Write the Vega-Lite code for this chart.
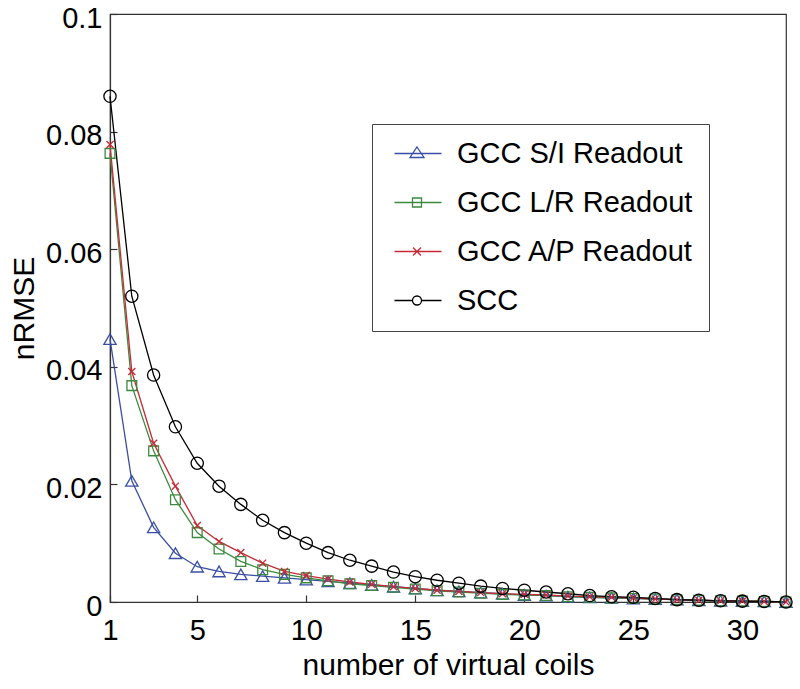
{
  "$schema": "https://vega.github.io/schema/vega-lite/v6.json",
  "width": 676,
  "height": 588,
  "autosize": {"type": "none"},
  "padding": {"left": 110, "top": 14, "right": 14, "bottom": 87},
  "background": "white",
  "config": {
    "font": "Liberation Sans",
    "view": {"stroke": "#333333", "strokeWidth": 1.2},
    "axis": {
      "grid": false,
      "domainColor": "#333333",
      "tickColor": "#333333",
      "domainWidth": 1.2,
      "tickWidth": 1.2,
      "tickSize": -7,
      "labelFlush": false,
      "labelFontSize": 29,
      "labelColor": "black",
      "titleFontSize": 30,
      "titleFontWeight": "normal",
      "titleColor": "black"
    }
  },
  "data": {
    "values": [
      {"n":1,"s":"GCC S/I Readout","v":0.0447},{"n":2,"s":"GCC S/I Readout","v":0.0206},{"n":3,"s":"GCC S/I Readout","v":0.0127},{"n":4,"s":"GCC S/I Readout","v":0.0083},{"n":5,"s":"GCC S/I Readout","v":0.0060},{"n":6,"s":"GCC S/I Readout","v":0.0052},{"n":7,"s":"GCC S/I Readout","v":0.0047},{"n":8,"s":"GCC S/I Readout","v":0.0044},{"n":9,"s":"GCC S/I Readout","v":0.0041},{"n":10,"s":"GCC S/I Readout","v":0.0038},{"n":11,"s":"GCC S/I Readout","v":0.0035},{"n":12,"s":"GCC S/I Readout","v":0.0032},{"n":13,"s":"GCC S/I Readout","v":0.0029},{"n":14,"s":"GCC S/I Readout","v":0.0026},{"n":15,"s":"GCC S/I Readout","v":0.0023},{"n":16,"s":"GCC S/I Readout","v":0.0020},{"n":17,"s":"GCC S/I Readout","v":0.0018},{"n":18,"s":"GCC S/I Readout","v":0.0016},{"n":19,"s":"GCC S/I Readout","v":0.0014},{"n":20,"s":"GCC S/I Readout","v":0.0012},{"n":21,"s":"GCC S/I Readout","v":0.0011},{"n":22,"s":"GCC S/I Readout","v":0.0009},{"n":23,"s":"GCC S/I Readout","v":0.0008},{"n":24,"s":"GCC S/I Readout","v":0.0007},{"n":25,"s":"GCC S/I Readout","v":0.0006},{"n":26,"s":"GCC S/I Readout","v":0.0005},{"n":27,"s":"GCC S/I Readout","v":0.0004},{"n":28,"s":"GCC S/I Readout","v":0.0003},{"n":29,"s":"GCC S/I Readout","v":0.0002},{"n":30,"s":"GCC S/I Readout","v":0.00015},{"n":31,"s":"GCC S/I Readout","v":0.0001},{"n":32,"s":"GCC S/I Readout","v":0.0},
      {"n":1,"s":"GCC L/R Readout","v":0.0763},{"n":2,"s":"GCC L/R Readout","v":0.0368},{"n":3,"s":"GCC L/R Readout","v":0.0257},{"n":4,"s":"GCC L/R Readout","v":0.0174},{"n":5,"s":"GCC L/R Readout","v":0.0118},{"n":6,"s":"GCC L/R Readout","v":0.0090},{"n":7,"s":"GCC L/R Readout","v":0.0069},{"n":8,"s":"GCC L/R Readout","v":0.0055},{"n":9,"s":"GCC L/R Readout","v":0.0047},{"n":10,"s":"GCC L/R Readout","v":0.0041},{"n":11,"s":"GCC L/R Readout","v":0.0036},{"n":12,"s":"GCC L/R Readout","v":0.0031},{"n":13,"s":"GCC L/R Readout","v":0.0028},{"n":14,"s":"GCC L/R Readout","v":0.0025},{"n":15,"s":"GCC L/R Readout","v":0.0022},{"n":16,"s":"GCC L/R Readout","v":0.0019},{"n":17,"s":"GCC L/R Readout","v":0.0017},{"n":18,"s":"GCC L/R Readout","v":0.0015},{"n":19,"s":"GCC L/R Readout","v":0.0013},{"n":20,"s":"GCC L/R Readout","v":0.0012},{"n":21,"s":"GCC L/R Readout","v":0.0011},{"n":22,"s":"GCC L/R Readout","v":0.0009},{"n":23,"s":"GCC L/R Readout","v":0.0008},{"n":24,"s":"GCC L/R Readout","v":0.0007},{"n":25,"s":"GCC L/R Readout","v":0.0006},{"n":26,"s":"GCC L/R Readout","v":0.0005},{"n":27,"s":"GCC L/R Readout","v":0.0004},{"n":28,"s":"GCC L/R Readout","v":0.0003},{"n":29,"s":"GCC L/R Readout","v":0.0002},{"n":30,"s":"GCC L/R Readout","v":0.00015},{"n":31,"s":"GCC L/R Readout","v":0.0001},{"n":32,"s":"GCC L/R Readout","v":0.0},
      {"n":1,"s":"GCC A/P Readout","v":0.0778},{"n":2,"s":"GCC A/P Readout","v":0.0392},{"n":3,"s":"GCC A/P Readout","v":0.0270},{"n":4,"s":"GCC A/P Readout","v":0.0197},{"n":5,"s":"GCC A/P Readout","v":0.0130},{"n":6,"s":"GCC A/P Readout","v":0.0103},{"n":7,"s":"GCC A/P Readout","v":0.0084},{"n":8,"s":"GCC A/P Readout","v":0.0066},{"n":9,"s":"GCC A/P Readout","v":0.0052},{"n":10,"s":"GCC A/P Readout","v":0.0045},{"n":11,"s":"GCC A/P Readout","v":0.0039},{"n":12,"s":"GCC A/P Readout","v":0.0034},{"n":13,"s":"GCC A/P Readout","v":0.0030},{"n":14,"s":"GCC A/P Readout","v":0.0026},{"n":15,"s":"GCC A/P Readout","v":0.0023},{"n":16,"s":"GCC A/P Readout","v":0.0020},{"n":17,"s":"GCC A/P Readout","v":0.0018},{"n":18,"s":"GCC A/P Readout","v":0.0016},{"n":19,"s":"GCC A/P Readout","v":0.0014},{"n":20,"s":"GCC A/P Readout","v":0.0013},{"n":21,"s":"GCC A/P Readout","v":0.0012},{"n":22,"s":"GCC A/P Readout","v":0.0010},{"n":23,"s":"GCC A/P Readout","v":0.0009},{"n":24,"s":"GCC A/P Readout","v":0.0008},{"n":25,"s":"GCC A/P Readout","v":0.0007},{"n":26,"s":"GCC A/P Readout","v":0.0005},{"n":27,"s":"GCC A/P Readout","v":0.0004},{"n":28,"s":"GCC A/P Readout","v":0.0003},{"n":29,"s":"GCC A/P Readout","v":0.0002},{"n":30,"s":"GCC A/P Readout","v":0.00015},{"n":31,"s":"GCC A/P Readout","v":0.0001},{"n":32,"s":"GCC A/P Readout","v":0.0},
      {"n":1,"s":"SCC","v":0.0860},{"n":2,"s":"SCC","v":0.0520},{"n":3,"s":"SCC","v":0.0386},{"n":4,"s":"SCC","v":0.0298},{"n":5,"s":"SCC","v":0.0236},{"n":6,"s":"SCC","v":0.0197},{"n":7,"s":"SCC","v":0.0166},{"n":8,"s":"SCC","v":0.0139},{"n":9,"s":"SCC","v":0.0118},{"n":10,"s":"SCC","v":0.0100},{"n":11,"s":"SCC","v":0.0084},{"n":12,"s":"SCC","v":0.0071},{"n":13,"s":"SCC","v":0.0061},{"n":14,"s":"SCC","v":0.0051},{"n":15,"s":"SCC","v":0.0043},{"n":16,"s":"SCC","v":0.0037},{"n":17,"s":"SCC","v":0.0032},{"n":18,"s":"SCC","v":0.0027},{"n":19,"s":"SCC","v":0.0023},{"n":20,"s":"SCC","v":0.0020},{"n":21,"s":"SCC","v":0.0017},{"n":22,"s":"SCC","v":0.0014},{"n":23,"s":"SCC","v":0.0011},{"n":24,"s":"SCC","v":0.0009},{"n":25,"s":"SCC","v":0.0008},{"n":26,"s":"SCC","v":0.0006},{"n":27,"s":"SCC","v":0.0004},{"n":28,"s":"SCC","v":0.0003},{"n":29,"s":"SCC","v":0.0002},{"n":30,"s":"SCC","v":0.00015},{"n":31,"s":"SCC","v":0.0001},{"n":32,"s":"SCC","v":0.0}
    ]
  },
  "encoding": {
    "x": {"field": "n", "type": "quantitative", "scale": {"domain": [1, 32], "nice": false, "zero": false},
          "axis": {"title": "number of virtual coils", "values": [1, 5, 10, 15, 20, 25, 30], "labelPadding": 21, "titlePadding": 5}},
    "y": {"field": "v", "type": "quantitative", "scale": {"domain": [0, 0.1], "nice": false},
          "axis": {"title": "nRMSE", "values": [0, 0.02, 0.04, 0.06, 0.08, 0.1], "format": "~g", "labelPadding": 15, "labelOffset": 4, "titlePadding": 6}},
    "color": {
      "field": "s", "type": "nominal",
      "scale": {"domain": ["GCC S/I Readout", "GCC L/R Readout", "GCC A/P Readout", "SCC"], "range": ["#3a4fa3", "#3b8a3e", "#c62a37", "#000000"]},
      "legend": {
        "title": null,
        "orient": "none",
        "legendX": 262,
        "legendY": 110,
        "strokeColor": "#444444",
        "fillColor": "white",
        "padding": 15,
        "labelFontSize": 29,
        "labelColor": "black",
        "labelFont": "Liberation Sans",
        "labelLimit": 500,
        "labelOffset": 41,
        "rowPadding": 19,
        "symbolSize": 100,
        "symbolStrokeWidth": 1.3,
        "encode": {
          "symbols": {
            "update": {
              "fill": {"value": "transparent"},
              "size": {"value": 100},
              "strokeWidth": {"value": 1.3},
              "shape": {"signal": "datum.value === 'SCC' ? 'M-1.4,0L2.2,0M4,0L8,0M2.2,0A0.9,0.9 0 1,1 4,0A0.9,0.9 0 1,1 2.2,0' : datum.value === 'GCC S/I Readout' ? 'M-1.4,0L8,0M3.1,-1.3L4.5,0.8L1.7,0.8Z' : datum.value === 'GCC L/R Readout' ? 'M-1.4,0L8,0M2.2,-0.9L4,-0.9L4,0.9L2.2,0.9Z' : 'M-1.4,0L8,0M2.3,-0.8L3.9,0.8M2.3,0.8L3.9,-0.8'"}
            }
          }
        }
      }
    }
  },
  "layer": [
    {"mark": {"type": "line", "strokeWidth": 1.3}},
    {"transform": [{"filter": "datum.s === 'GCC S/I Readout'"}],
     "mark": {"type": "point", "filled": false, "strokeWidth": 1.3, "opacity": 1, "shape": "triangle-up", "size": 150}},
    {"transform": [{"filter": "datum.s === 'GCC L/R Readout'"}],
     "mark": {"type": "point", "filled": false, "strokeWidth": 1.3, "opacity": 1, "shape": "square", "size": 95}},
    {"transform": [{"filter": "datum.s === 'GCC A/P Readout'"}],
     "mark": {"type": "point", "filled": false, "strokeWidth": 1.3, "opacity": 1, "shape": "M-1,-1L1,1M-1,1L1,-1", "size": 50}},
    {"transform": [{"filter": "datum.s === 'SCC'"}],
     "mark": {"type": "point", "filled": false, "strokeWidth": 1.3, "opacity": 1, "shape": "circle", "size": 150}}
  ]
}
